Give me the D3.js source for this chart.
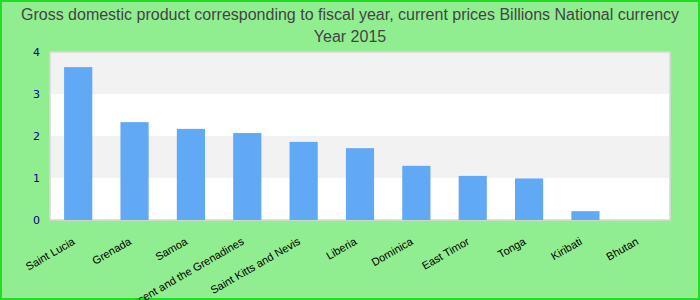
<!DOCTYPE html>
<html>
<head>
<meta charset="utf-8">
<script src="https://cdn.jsdelivr.net/npm/d3@7"></script>
<style>
  body { margin: 0; background: #fff; }
  svg { display: block; font-family: "Liberation Sans", Arial, sans-serif; }
</style>
</head>
<body>
<div class="chart"></div>
<script>
var countries = ["Saint Lucia", "Grenada", "Samoa", "Saint Vincent and the Grenadines",
  "Saint Kitts and Nevis", "Liberia", "Dominica", "East Timor", "Tonga", "Kiribati", "Bhutan"];
var gdp = [3.64, 2.33, 2.17, 2.07, 1.86, 1.71, 1.29, 1.05, 0.99, 0.21, 0];
var yTicks = [0, 1, 2, 3, 4];
var titleLines = ["Gross domestic product corresponding to fiscal year, current prices Billions National currency", "Year 2015"];

var svgWidth = 700;
var svgHeight = 300;
var margin = { top: 52, right: 30, bottom: 80, left: 50 };
var width = svgWidth - margin.left - margin.right;
var height = svgHeight - margin.top - margin.bottom;

var svg = d3.select(".chart")
  .append("svg")
  .attr("width", svgWidth)
  .attr("height", svgHeight);

// background + border
svg.append("rect")
  .attr("x", 1).attr("y", 1)
  .attr("width", svgWidth - 2).attr("height", svgHeight - 2)
  .attr("fill", "#90ee90")
  .attr("stroke", "#22dd22")
  .attr("stroke-width", 2);

svg.selectAll(".title")
  .data(titleLines)
  .enter()
  .append("text")
  .attr("class", "title")
  .attr("x", svgWidth / 2)
  .attr("y", (d, i) => 20 + i * 22)
  .attr("text-anchor", "middle")
  .attr("font-size", "16px")
  .attr("fill", "#444")
  .text(d => d);

var chartGroup = svg.append("g")
  .attr("transform", `translate(${margin.left}, ${margin.top})`);

var xScale = d3.scaleBand()
  .domain(countries)
  .range([0, width])
  .paddingInner(0.5)
  .paddingOuter(0.25);

var yScale = d3.scaleLinear()
  .domain([0, 4])
  .range([height, 0]);

// striped bands
chartGroup.selectAll(".band")
  .data(yTicks.slice(0, -1))
  .enter()
  .append("rect")
  .attr("class", "band")
  .attr("x", 0)
  .attr("width", width)
  .attr("y", d => yScale(d + 1))
  .attr("height", d => yScale(d) - yScale(d + 1))
  .attr("fill", d => d % 2 ? "#f2f2f2" : "#ffffff");

chartGroup.append("rect")
  .attr("width", width)
  .attr("height", height)
  .attr("fill", "none")
  .attr("stroke", "#d8d8d8")
  .attr("stroke-width", 1.5);

chartGroup.selectAll(".bar")
  .data(gdp)
  .enter()
  .append("rect")
  .attr("class", "bar")
  .attr("x", (d, i) => xScale(countries[i]))
  .attr("width", xScale.bandwidth())
  .attr("y", d => yScale(d))
  .attr("height", d => height - yScale(d))
  .attr("fill", "#61a8f5");

// y axis
var leftAxis = d3.axisLeft(yScale).tickValues(yTicks).tickFormat(d3.format("d"))
  .tickSize(0).tickPadding(10);
var yAxis = chartGroup.append("g").call(leftAxis);
yAxis.select(".domain").remove();
yAxis.selectAll("text")
  .attr("font-size", "11px")
  .attr("font-family", "DejaVu Sans, sans-serif")
  .attr("fill", "#00008b");

// x axis
var bottomAxis = d3.axisBottom(xScale).tickSize(0);
var xAxis = chartGroup.append("g")
  .attr("transform", `translate(0, ${height})`)
  .call(bottomAxis);
xAxis.select(".domain").remove();
xAxis.selectAll("text")
  .attr("font-size", "11px")
  .attr("fill", "#000")
  .attr("text-anchor", "end")
  .attr("dy", "0")
  .attr("transform", "translate(-4, 21) rotate(-30)");
</script>
</body>
</html>
